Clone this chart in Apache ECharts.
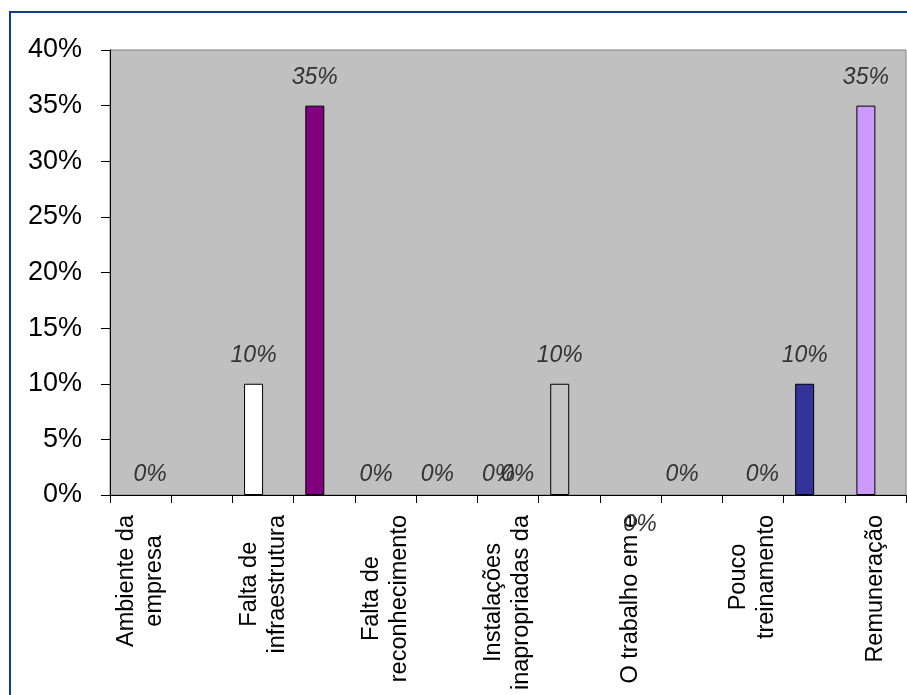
<!DOCTYPE html>
<html>
<head>
<meta charset="utf-8">
<script src="https://cdn.jsdelivr.net/npm/echarts@6/dist/echarts.min.js"></script>
<style>
  html, body { margin: 0; padding: 0; background: #ffffff; }
  #chart { width: 907px; height: 695px; }
</style>
</head>
<body>
<div id="chart"></div>
<script>
// Categories on the x axis (only every other one carries a printed name)
const categories = [
  'Ambiente da\nempresa', '',
  'Falta de\ninfraestrutura', '',
  'Falta de\nreconhecimento', '',
  'Instalações\ninapropriadas da', '',
  'O trabalho em e', '',
  'Pouco\ntreinamento', '',
  'Remuneração'
];

// Share of answers per category, in percent (first series of each cluster)
const primaryValues = [0, 0, 10, 35, 0, 0, 0, 10, 0, 0, 0, 10, 35];

// Second series of each cluster (only zero entries carry labels)
const secondaryValues = [0, null, null, null, null, null, 0, null, 0, null, 0, null, null];

// Y axis range and step, in percent
const yMin = 0;
const yMax = 40;
const yStep = 5;

// Styling
const barColors = ['#FFFFFF', '#FFFFFF', '#FFFFFF', '#800080', '#FFFFFF', '#FFFFFF', '#FFFFFF',
                   '#C4C4C4', '#FFFFFF', '#FFFFFF', '#FFFFFF', '#333399', '#CC99FF'];
const primaryUnlabeled = [0, 1, 8, 10];
const secondaryBelow = [8];
const FONT = '"Liberation Sans", Arial, sans-serif';

const valueLabel = {
  show: true,
  position: 'top',
  formatter: (p) => p.value + '%',
  fontFamily: FONT,
  fontStyle: 'italic',
  fontSize: 23,
  color: '#333333'
};

// Zero-height bars stay invisible; only their labels are drawn
const primaryData = primaryValues.map((v, i) => ({
  value: v,
  itemStyle: {
    color: v === 0 ? 'rgba(0,0,0,0)' : barColors[i],
    borderWidth: v === 0 ? 0 : 1
  },
  label: {
    show: !primaryUnlabeled.includes(i),
    distance: v === 0 ? 9 : 17
  }
}));

const secondaryData = secondaryValues.map((v, i) => {
  if (v === null) return null;
  const below = secondaryBelow.includes(i);
  return {
    value: v,
    label: {
      show: true,
      position: below ? 'bottom' : 'top',
      distance: below ? 18 : 9
    }
  };
});

const chart = echarts.init(document.getElementById('chart'), null, { renderer: 'canvas' });

chart.setOption({
  backgroundColor: '#ffffff',
  animation: false,
  grid: {
    left: 110,
    top: 50,
    right: 1,
    bottom: 200,
    show: true,
    backgroundColor: '#C0C0C0',
    borderColor: '#808080',
    borderWidth: 1,
    containLabel: false
  },
  xAxis: {
    type: 'category',
    data: categories,
    boundaryGap: true,
    axisLine: { show: true, lineStyle: { color: '#000000', width: 1 } },
    axisTick: { show: true, interval: 0, length: 8, lineStyle: { color: '#000000' } },
    axisLabel: {
      interval: 0,
      rotate: 90,
      margin: 20,
      formatter: (name) => name ? name.split('\n').map((l) => '{c|' + l + '}').join('\n') : '',
      rich: {
        c: {
          align: 'center',
          fontFamily: FONT,
          fontSize: 23.5,
          lineHeight: 28,
          color: '#000000'
        }
      }
    },
    splitLine: { show: false }
  },
  yAxis: {
    type: 'value',
    min: yMin,
    max: yMax,
    interval: yStep,
    axisLine: { show: true, lineStyle: { color: '#000000', width: 1 } },
    axisTick: { show: true, length: 9, lineStyle: { color: '#000000' } },
    axisLabel: {
      formatter: '{value}%',
      fontFamily: FONT,
      fontSize: 27,
      color: '#000000',
      margin: 28
    },
    splitLine: { show: false }
  },
  series: [
    {
      type: 'bar',
      data: primaryData,
      barWidth: 19,
      barGap: '0%',
      itemStyle: { borderColor: '#000000', borderWidth: 1 },
      label: valueLabel
    },
    {
      type: 'bar',
      data: secondaryData,
      barWidth: 19,
      barGap: '0%',
      itemStyle: { color: 'rgba(0,0,0,0)', borderWidth: 0 },
      label: valueLabel
    }
  ],
  graphic: [
    {
      type: 'rect',
      shape: { x: 10, y: 12, width: 1000, height: 1000 },
      style: { fill: null, stroke: '#12398A', lineWidth: 2 },
      silent: true,
      z: 100
    }
  ]
});
</script>
</body>
</html>
